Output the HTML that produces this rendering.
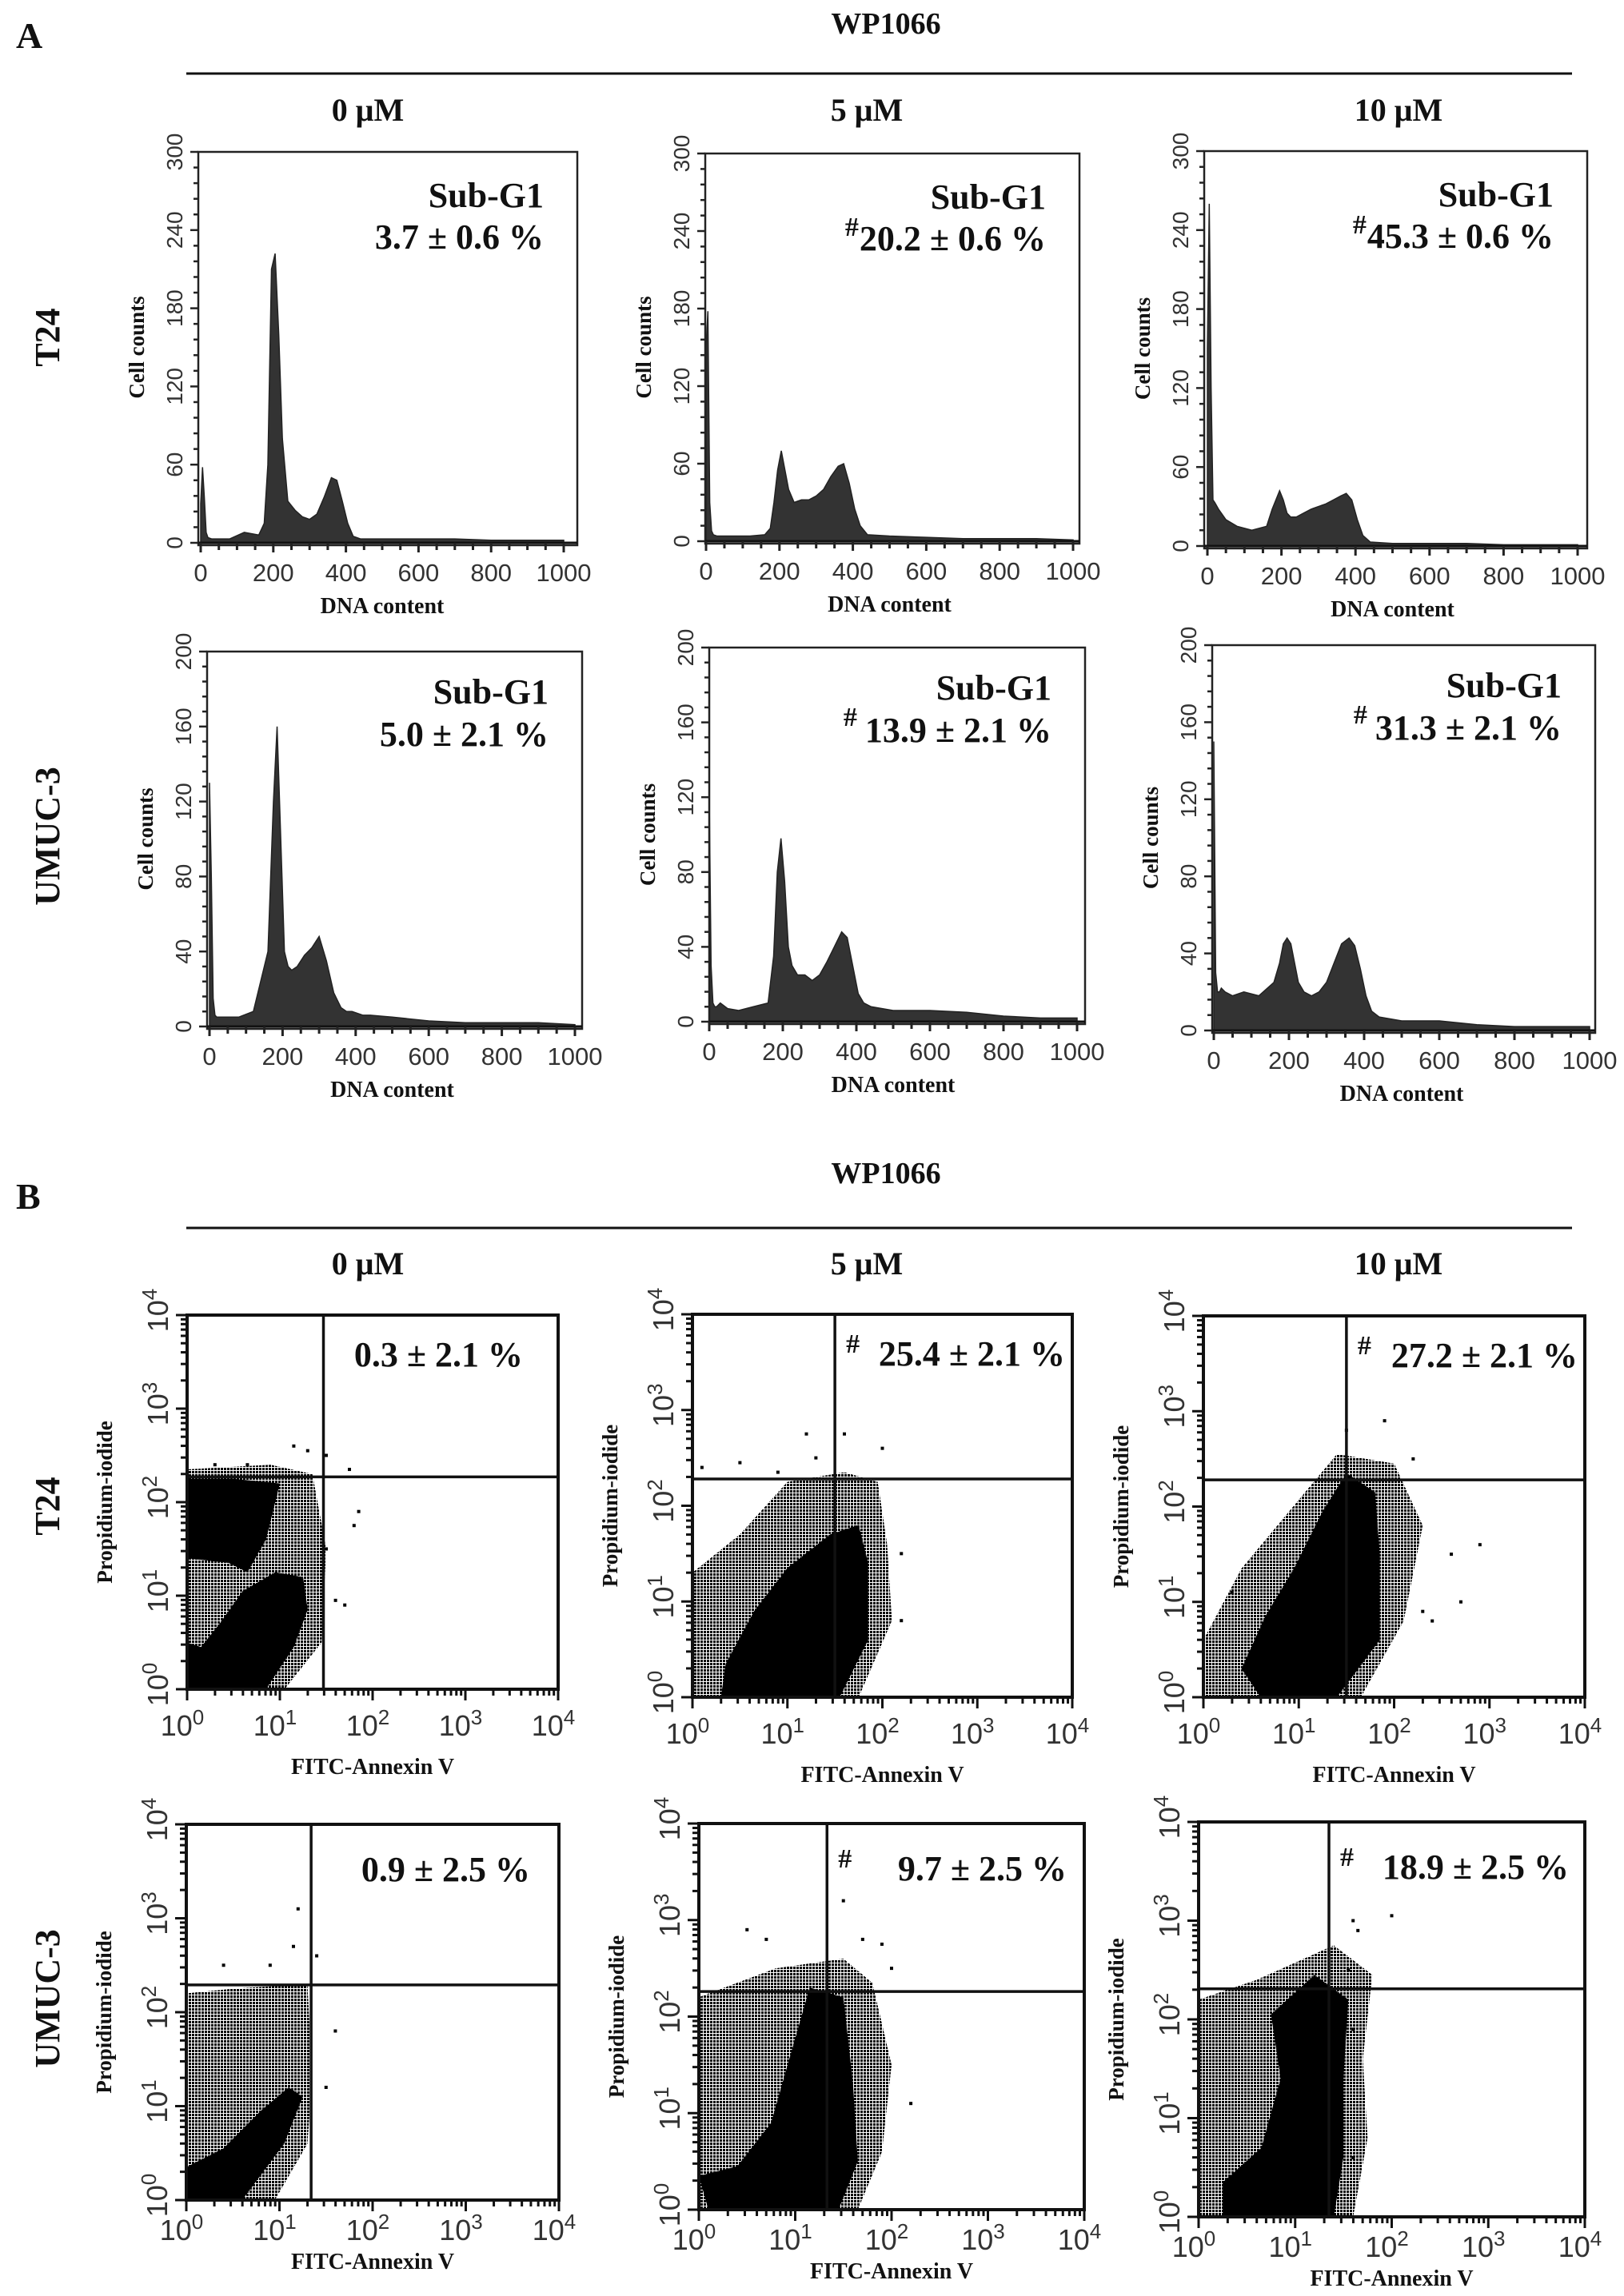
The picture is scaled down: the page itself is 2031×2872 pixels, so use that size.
<!DOCTYPE html>
<html><head><meta charset="utf-8"><style>
html,body{margin:0;padding:0;background:#fff}
svg{display:block}
.ser{font-family:"Liberation Serif",serif;font-weight:bold;fill:#111}
.san{font-family:"Liberation Sans",sans-serif;fill:#333}
</style></head><body>
<svg id="fig" width="2031" height="2872" viewBox="0 0 2031 2872" xmlns="http://www.w3.org/2000/svg">
<defs>
<pattern id="speck" width="4" height="4" patternUnits="userSpaceOnUse"><rect x="0" y="0" width="3" height="3" fill="#000"/></pattern>
</defs>
<g id="root"></g>
</svg>
<script>
// ---------- histogram data (DNA content bins shared, counts per panel) ----------
const dnaBins = [0,5,10,15,20,30,50,80,120,160,175,185,195,205,215,225,240,260,280,300,320,340,360,375,390,405,420,440,500,600,700,800,900,1000];
const t24_0uM  = [30,58,35,8,4,3,3,3,8,6,15,60,210,222,160,80,32,25,20,18,22,35,50,48,32,15,5,3,3,3,3,2,2,2];
const t24_5uM  = [150,178,30,8,5,4,4,4,4,5,10,30,55,70,55,40,30,32,32,35,40,50,58,60,45,25,12,5,4,3,2,2,2,1];
const t24_10uM = [150,260,120,35,33,28,20,15,12,15,28,35,42,35,25,22,22,25,28,30,32,35,38,40,35,20,8,3,2,2,2,1,1,1];
const um_0uM   = [130,80,15,6,5,5,5,5,8,40,120,160,100,40,32,30,32,38,42,48,35,18,10,8,8,7,6,6,5,3,2,2,2,1];
const um_5uM   = [120,30,10,8,8,10,7,6,8,10,35,80,98,75,40,30,25,25,22,25,32,40,48,45,30,15,10,8,6,6,5,3,2,2];
const um_10uM  = [150,30,20,20,22,20,18,20,18,25,35,45,48,45,35,25,20,18,20,25,35,45,48,44,32,18,10,7,5,5,3,2,2,2];
const xTicksHist = [0,200,400,600,800,1000];
const yTicksT24 = [0,60,120,180,240,300];
const yTicksUM = [0,40,80,120,160,200];
const subG1Labels = ["3.7 ± 0.6 %","20.2 ± 0.6 %","45.3 ± 0.6 %","5.0 ± 2.1 %","13.9 ± 2.1 %","31.3 ± 2.1 %"];

// ---------- flow cytometry data (log10 coordinates) ----------
const logTicks = [0,1,2,3,4];
const gateX = [1.47,1.5,1.5,1.34,1.33,1.35];
const gateY = [2.27,2.28,2.28,2.29,2.26,2.31];
const apoLabels = ["0.3 ± 2.1 %","25.4 ± 2.1 %","27.2 ± 2.1 %","0.9 ± 2.5 %","9.7 ± 2.5 %","18.9 ± 2.5 %"];
const t24_0_core1 = [[0,0],[0.85,0],[1.15,0.45],[1.3,0.85],[1.25,1.2],[0.95,1.25],[0.6,1.05],[0.35,0.7],[0.15,0.45],[0,0.5]];
const t24_0_core2 = [[0,1.4],[0.45,1.35],[0.65,1.25],[0.85,1.6],[1.0,2.2],[0.5,2.25],[0,2.25]];
const t24_0_halo = [[0,0],[1.05,0],[1.45,0.5],[1.5,1.5],[1.35,2.3],[0.9,2.4],[0,2.35]];
const t24_0_out = [[1.5,2.5],[1.15,2.6],[1.3,2.55],[1.75,2.35],[1.8,1.75],[1.85,1.9],[1.6,0.95],[1.5,1.5],[0.3,2.4],[0.65,2.4],[1.7,0.9]];
const t24_5_core = [[0.3,0],[1.55,0],[1.85,0.6],[1.85,1.4],[1.75,1.8],[1.45,1.7],[1.0,1.35],[0.65,0.9],[0.35,0.35]];
const t24_5_halo = [[0,0],[1.75,0],[2.1,0.8],[2.05,1.6],[1.95,2.25],[1.6,2.35],[1.0,2.25],[0.5,1.7],[0,1.3]];
const t24_5_out = [[0.1,2.4],[0.5,2.45],[0.9,2.35],[1.3,2.5],[1.2,2.75],[1.6,2.75],[2.0,2.6],[2.2,1.5],[2.2,0.8]];
const t24_10_core = [[0.6,0],[1.4,0],[1.85,0.6],[1.85,1.5],[1.8,2.15],[1.5,2.35],[1.25,1.95],[0.95,1.35],[0.65,0.85],[0.4,0.3]];
const t24_10_halo = [[0,0],[1.65,0],[2.1,0.8],[2.3,1.8],[2.0,2.45],[1.4,2.55],[0.9,1.95],[0.4,1.35],[0,0.6]];
const t24_10_out = [[2.9,1.6],[2.7,1.0],[2.4,0.8],[1.9,2.9],[2.2,2.5],[1.5,2.8],[0.3,1.1],[2.6,1.5],[2.3,0.9]];
const um_0_core = [[0,0],[0.6,0],[1.05,0.6],[1.25,1.1],[1.1,1.2],[0.8,0.95],[0.4,0.55],[0,0.35]];
const um_0_halo = [[0,0],[0.95,0],[1.3,0.6],[1.35,1.3],[1.3,2.3],[0.5,2.25],[0,2.2]];
const um_0_out = [[1.5,1.2],[1.6,1.8],[1.4,2.6],[1.2,3.1],[0.4,2.5],[0.9,2.5],[1.15,2.7]];
const um_5_core = [[0.1,0],[1.45,0],[1.65,0.5],[1.6,1.3],[1.5,2.2],[1.15,2.3],[0.95,1.6],[0.75,0.9],[0.4,0.45],[0,0.35]];
const um_5_halo = [[0,0],[1.65,0],[1.9,0.6],[2.0,1.5],[1.8,2.35],[1.5,2.6],[0.8,2.5],[0,2.2]];
const um_5_out = [[1.5,3.2],[1.7,2.8],[2.0,2.5],[1.9,2.75],[0.7,2.8],[0.5,2.9],[2.2,1.1]];
const um_10_core = [[0.25,0],[1.4,0],[1.5,0.6],[1.5,1.4],[1.55,2.2],[1.2,2.45],[0.75,2.05],[0.85,1.4],[0.65,0.7],[0.25,0.35]];
const um_10_halo = [[0,0],[1.6,0],[1.75,0.8],[1.7,1.6],[1.8,2.45],[1.4,2.75],[0.6,2.4],[0,2.2]];
const um_10_out = [[1.65,2.9],[1.6,3.0],[2.0,3.05],[1.55,2.5],[1.6,1.9],[1.6,0.6]];

const NS="http://www.w3.org/2000/svg";
const root=document.getElementById('root');
function mk(tag,attrs,parent){const e=document.createElementNS(NS,tag);for(const k in attrs)e.setAttribute(k,attrs[k]);(parent||root).appendChild(e);return e;}
function txt(s,attrs,parent){const e=mk('text',attrs,parent);e.textContent=s;return e;}

let t;
t=txt('A',{x:20,y:60,class:'ser','font-size':46});

t=txt('B',{x:20,y:1512,class:'ser','font-size':46});

[[30,92],[1468,1536]].forEach((p,i)=>{
  t=txt('WP1066',{x:1108,y:p[0]+12,class:'ser','font-size':38,'text-anchor':'middle'});
  
  t=mk('line',{x1:233,x2:1966,y1:p[1],y2:p[1],stroke:'#111','stroke-width':3});
  
});
const concX=[460,1084,1749];const concL=['0 μM','5 μM','10 μM'];
[137,1580].forEach(y=>concL.forEach((c,i)=>{
  t=txt(c,{x:concX[i],y:y+14,class:'ser','font-size':40,'text-anchor':'middle'});
  
}));
[[422,'T24'],[1046,'UMUC-3'],[1884,'T24'],[2500,'UMUC-3']].forEach(r=>{
  t=txt(r[1],{x:0,y:0,class:'ser','font-size':44,'text-anchor':'middle',transform:`translate(74,${r[0]}) rotate(-90)`});
  
});

// ---------- histograms ----------
const histPanels=[
 {L:248,R:722,T:190,Z:679,x0:251,x1:705,max:300,ticks:yTicksT24,data:t24_0uM,hash:false},
 {L:882,R:1350,T:192,Z:677,x0:883,x1:1342,max:300,ticks:yTicksT24,data:t24_5uM,hash:true},
 {L:1506,R:1985,T:189,Z:683,x0:1510,x1:1973,max:300,ticks:yTicksT24,data:t24_10uM,hash:true},
 {L:259,R:728,T:815,Z:1284,x0:262,x1:719,max:200,ticks:yTicksUM,data:um_0uM,hash:false},
 {L:887,R:1357,T:810,Z:1278,x0:887,x1:1347,max:200,ticks:yTicksUM,data:um_5uM,hash:true},
 {L:1516,R:1995,T:807,Z:1289,x0:1518,x1:1988,max:200,ticks:yTicksUM,data:um_10uM,hash:true}
];
histPanels.forEach((p,i)=>{
  const g=mk('g',{});
  
  
  const xs=v=>p.x0+(p.x1-p.x0)*v/1000;
  const ys=v=>p.Z-(p.Z-p.T)*v/p.max;
  let d=`M${xs(0)},${p.Z}`;
  dnaBins.forEach((b,k)=>{d+=` L${xs(b)},${ys(p.data[k])}`;});
  d+=` L${xs(1000)},${p.Z} Z`;
  const a=mk('path',{d:d,fill:'#333',stroke:'#222','stroke-width':1.5},g);
  
  const bx=mk('rect',{x:p.L,y:p.T,width:p.R-p.L,height:p.Z+3-p.T,fill:'none',stroke:'#222','stroke-width':2.5},g);
  
  mk('line',{x1:p.L,x2:p.R,y1:p.Z,y2:p.Z,stroke:'#111','stroke-width':3},g);
  for(let v=0;v<=1000;v+=50){mk('line',{x1:xs(v),x2:xs(v),y1:p.Z,y2:p.Z+(v%200==0?12:9),stroke:'#222','stroke-width':3},g);}
  xTicksHist.forEach(v=>{
    const e=txt(String(v),{x:xs(v),y:p.Z+48,class:'san','font-size':31,'text-anchor':'middle'},g);
    
  });
  const step=p.ticks[1]/5;
  for(let v=0;v<=p.max;v+=step){mk('line',{x1:p.L-(v%p.ticks[1]==0?10:6),x2:p.L,y1:ys(v),y2:ys(v),stroke:'#222','stroke-width':2.5},g);}
  p.ticks.forEach(v=>{
    const e=txt(String(v),{x:0,y:0,class:'san','font-size':28,'text-anchor':'middle',transform:`translate(${p.L-20},${ys(v)}) rotate(-90)`},g);
    
  });
  let e=txt('Cell counts',{x:0,y:0,class:'ser','font-size':27,'text-anchor':'middle',transform:`translate(${p.L-68},${(p.T+p.Z)/2}) rotate(-90)`},g);
  
  e=txt('DNA content',{x:(p.x0+p.x1)/2,y:p.Z+88,class:'ser','font-size':28,'text-anchor':'middle'},g);
  
  const row2=i>=3;
  e=txt('Sub-G1',{x:p.R-42,y:p.T+(row2?65:69),class:'ser','font-size':44,'text-anchor':'end'},g);
  
  const val=txt(subG1Labels[i],{x:p.R-42,y:p.T+(row2?118:121),class:'ser','font-size':44,'text-anchor':'end'},g);
  
  if(p.hash){
    const w=val.getComputedTextLength();
    e=txt('#',{x:p.R-42-w-(row2?10:1),y:p.T+(row2?98:103),class:'ser','font-size':34,'text-anchor':'end'},g);
    
  }
});

// ---------- flow cytometry scatter ----------
const scatPanels=[
 {L:234,R:698,T:1645,B:2113,cores:[t24_0_core1,t24_0_core2],halo:t24_0_halo,out:t24_0_out,hash:false,lx:44},
 {L:866,R:1341,T:1644,B:2123,cores:[t24_5_core],halo:t24_5_halo,out:t24_5_out,hash:true,lx:9},
 {L:1505,R:1982,T:1646,B:2123,cores:[t24_10_core],halo:t24_10_halo,out:t24_10_out,hash:true,lx:9},
 {L:233,R:699,T:2282,B:2752,cores:[um_0_core],halo:um_0_halo,out:um_0_out,hash:false,lx:36},
 {L:874,R:1356,T:2281,B:2764,cores:[um_5_core],halo:um_5_halo,out:um_5_out,hash:true,lx:22},
 {L:1499,R:1982,T:2279,B:2773,cores:[um_10_core],halo:um_10_halo,out:um_10_out,hash:true,lx:20}
];
scatPanels.forEach((p,i)=>{
  const g=mk('g',{});
  
  
  const row4=i>=3;
  const xs=v=>p.L+(p.R-p.L)*v/4;
  const ys=v=>p.B-(p.B-p.T)*v/4;
  const poly=a=>a.map(q=>`${xs(q[0]).toFixed(1)},${ys(q[1]).toFixed(1)}`).join(' ');
  let e=mk('polygon',{points:poly(p.halo),fill:'url(#speck)'},g);
  
  p.cores.forEach(c=>{
    const c2=mk('polygon',{points:poly(c),fill:'#000'},g);
    
  });
  p.out.forEach(q=>{
    const r=mk('rect',{x:xs(q[0])-2,y:ys(q[1])-2,width:4,height:4,fill:'#000'},g);
    
  });
  e=mk('rect',{x:p.L,y:p.T,width:p.R-p.L,height:p.B-p.T,fill:'none',stroke:'#111','stroke-width':4},g);
  
  e=mk('line',{x1:xs(gateX[i]),x2:xs(gateX[i]),y1:p.T,y2:p.B,stroke:'#111','stroke-width':3.5},g);
  
  e=mk('line',{x1:p.L,x2:p.R,y1:ys(gateY[i]),y2:ys(gateY[i]),stroke:'#111','stroke-width':3.5},g);
  
  for(let dcd=0;dcd<4;dcd++){for(let m=1;m<=9;m++){const v=dcd+Math.log10(m);const len=m==1?14:8;
    mk('line',{x1:xs(v),x2:xs(v),y1:p.B,y2:p.B+len,stroke:'#111','stroke-width':3},g);
    mk('line',{x1:p.L-len,x2:p.L,y1:ys(v),y2:ys(v),stroke:'#111','stroke-width':3},g);}}
  mk('line',{x1:xs(4),x2:xs(4),y1:p.B,y2:p.B+14,stroke:'#111','stroke-width':3},g);
  mk('line',{x1:p.L-14,x2:p.L,y1:ys(4),y2:ys(4),stroke:'#111','stroke-width':3},g);
  logTicks.forEach(v=>{
    const a=txt('',{x:xs(v)-6,y:p.B+(row4?50:58),class:'san','font-size':36,'text-anchor':'middle'},g);
    
    const t1=mk('tspan',{},a);t1.textContent='10';
    const t2=mk('tspan',{dy:-14,'font-size':26},a);t2.textContent=String(v);
    const b=txt('',{x:0,y:0,class:'san','font-size':36,'text-anchor':'middle',transform:`translate(${p.L-24},${ys(v)-6}) rotate(-90)`},g);
    
    const s1=mk('tspan',{},b);s1.textContent='10';
    const s2=mk('tspan',{dy:-14,'font-size':26},b);s2.textContent=String(v);
  });
  e=txt('Propidium-iodide',{x:0,y:0,class:'ser','font-size':27,'text-anchor':'middle',transform:`translate(${p.L-94},${(p.T+p.B)/2}) rotate(-90)`},g);
  
  e=txt('FITC-Annexin V',{x:(p.L+p.R)/2,y:Math.min(p.B+(row4?86:106),2862),class:'ser','font-size':28,'text-anchor':'middle'},g);
  
  const by=p.T+(row4?71:64);
  e=txt(apoLabels[i],{x:p.R-p.lx,y:by,class:'ser','font-size':44,'text-anchor':'end'},g);
  
  if(p.hash){
    e=txt('#',{x:xs(gateX[i])+14,y:by-16,class:'ser','font-size':34},g);
    
  }
});
</script>
</body></html>
